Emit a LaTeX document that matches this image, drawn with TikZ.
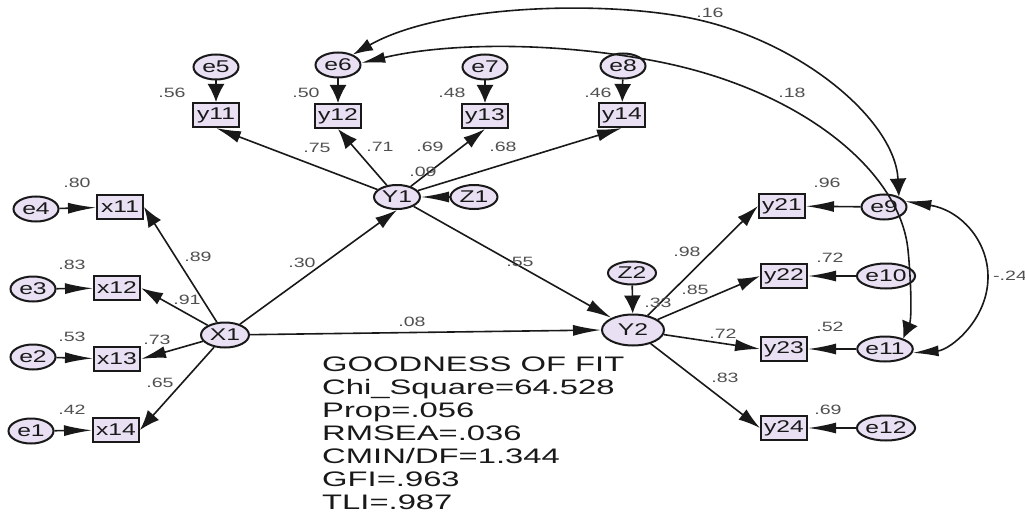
\documentclass[tikz,border=0pt]{standalone}
\usepackage{fontspec}
\usetikzlibrary{shapes.geometric,arrows.meta}
\newfontfamily\nfont[FakeStretch=1.45]{Liberation Sans}
\newfontfamily\tfont[FakeStretch=1.56]{Liberation Sans}
\definecolor{lav}{RGB}{233,225,243}
\definecolor{lblc}{RGB}{80,80,80}
\definecolor{inkc}{RGB}{25,25,25}
\begin{document}
\begin{tikzpicture}[x=1pt,y=-1pt,
  lat/.style={ellipse, draw=inkc, line width=2pt, fill=lav, minimum width=45pt, minimum height=25pt, inner sep=0pt, text=inkc, font=\nfont\fontsize{17}{18}\selectfont},
  obs/.style={rectangle, draw=inkc, line width=2pt, fill=lav, minimum width=46pt, minimum height=24pt, inner sep=0pt, text=inkc, font=\nfont\fontsize{17}{18}\selectfont},
  lbl/.style={inner sep=0pt, text=lblc, font=\nfont\fontsize{13.5}{15}\selectfont},
  con/.style={draw=inkc, line width=1.6pt},
  ah/.style={con, -{Latex[length=28pt,width=11pt]}},
  av/.style={con, -{Latex[length=18pt,width=17pt]}},
  ad/.style={con, -{Latex[length=22pt,width=13pt]}},
  as/.style={con, -{Latex[length=25pt,width=12pt]}},
  ast/.style={con, -{Latex[length=20pt,width=15pt]}}
]
\useasboundingbox (0,0) rectangle (1025,516);
\fill[white] (0,0) rectangle (1025,516);

% error terms and indicators of Y1
\node[lat] (e5) at (216,67) {e5};
\node[lat] (e6) at (338,65) {e6};
\node[lat] (e7) at (485,67) {e7};
\node[lat] (e8) at (623,66) {e8};
\node[obs] (y11) at (216,115) {y11};
\node[obs] (y12) at (338,116) {y12};
\node[obs] (y13) at (485,116) {y13};
\node[obs] (y14) at (622,115) {y14};
\node[lat, minimum width=46pt, minimum height=24pt] (Y1) at (397,197) {Y1};
\node[lat, minimum width=47pt, minimum height=24pt] (Z1) at (474,197) {Z1};

% X1 side
\node[lat] (e4) at (36,209) {e4};
\node[obs] (x11) at (120,207) {x11};
\node[lat] (e3) at (33,289) {e3};
\node[obs] (x12) at (117,288) {x12};
\node[lat] (e2) at (33,357) {e2};
\node[obs] (x13) at (117,359) {x13};
\node[lat] (e1) at (31,431) {e1};
\node[obs] (x14) at (116,430) {x14};
\node[lat, minimum width=48pt, minimum height=25pt] (X1) at (225,335) {X1};

% Y2 side
\node[lat, minimum width=62pt, minimum height=31pt] (Y2) at (633,330) {Y2};
\node[lat, minimum width=48pt, minimum height=23pt] (Z2) at (632,273) {Z2};
\node[obs] (y21) at (782,206) {y21};
\node[obs] (y22) at (784,276) {y22};
\node[obs] (y23) at (784,349) {y23};
\node[obs] (y24) at (784,428) {y24};
\node[lat] (e9) at (884,207) {e9};
\node[lat] (e10) at (886,276) {e10};
\node[lat] (e11) at (885,349) {e11};
\node[lat] (e12) at (886,428) {e12};

% error -> indicator
\draw[av] (e5) -- (y11);
\draw[av] (e6) -- (y12);
\draw[av] (e7) -- (y13);
\draw[av] (e8) -- (y14);
\draw[ah] (e4) -- (x11);
\draw[ah] (e3) -- (x12);
\draw[ah] (e2) -- (x13);
\draw[ah] (e1) -- (x14);
\draw[ah] (e9) -- (y21);
\draw[ah] (e10) -- (y22);
\draw[ah] (e11) -- (y23);
\draw[ah] (e12) -- (y24);

% loadings
\draw[as] (Y1) -- (y11.south);
\draw[ast] (Y1) -- (y12.south);
\draw[ad] (Y1) -- (y13.south);
\draw[as] (Y1) -- (y14.south);
\draw[ast] (X1) -- (x11.east);
\draw[ad] (X1) -- (x12.east);
\draw[as] (X1) -- (x13.east);
\draw[ast] (X1) -- (x14.east);
\draw[ad] (Y2) -- (y21.west);
\draw[ad] (Y2) -- (y22.west);
\draw[as] (Y2) -- (y23.west);
\draw[ad] (Y2) -- (y24.west);

% structural paths
\draw[ad] (X1) -- (Y1.south);
\draw[ah] (X1) -- (Y2.west);
\draw[as] (Y1) -- (Y2);
\draw[ah] (Z1) -- (Y1);
\draw[av] (Z2) -- (Y2);

% covariances
\draw[con, {Latex[length=20pt,width=13pt]}-{Latex[length=18pt,width=17pt]}]
  (e6.35) .. controls (440,5) and (600,0) .. (690,18)
  .. controls (800,40) and (895,120) .. (e9.35);
\draw[con, {Latex[length=24pt,width=11pt]}-{Latex[length=17pt,width=17pt]}]
  (e6.5) .. controls (450,42) and (560,42) .. (660,62)
  .. controls (800,90) and (900,170) .. (908,250)
  .. controls (911,280) and (912,318) .. (e11.30);
\draw[con, {Latex[length=26pt,width=11pt]}-{Latex[length=26pt,width=11pt]}]
  (e9.15) .. controls (960,210) and (988,240) .. (988,277)
  .. controls (988,320) and (950,350) .. (e11.-8);

% labels
\node[lbl] (l56) at (172,93) {.56};
\node[lbl] (l50) at (306,93) {.50};
\node[lbl] (l48) at (452,93) {.48};
\node[lbl] (l46) at (598,93) {.46};
\node[lbl] (l75) at (317,148) {.75};
\node[lbl] (l71) at (380,147) {.71};
\node[lbl] (l69) at (430,147) {.69};
\node[lbl] (l68) at (503,147) {.68};
\node[lbl] (l09) at (423,172) {.09};
\node[lbl] (l80) at (77,183) {.80};
\node[lbl] (l83a) at (72,265) {.83};
\node[lbl] (l53) at (72,337) {.53};
\node[lbl] (l42) at (72,410) {.42};
\node[lbl] (l89) at (198,257) {.89};
\node[lbl] (l91) at (187,300) {.91};
\node[lbl] (l73) at (157,340) {.73};
\node[lbl] (l65) at (160,383) {.65};
\node[lbl] (l30) at (302,263) {.30};
\node[lbl] (l55) at (520,262) {.55};
\node[lbl] (l08) at (412,322) {.08};
\node[lbl] (l33) at (658,303) {.33};
\node[lbl] (l98) at (687,252) {.98};
\node[lbl] (l85) at (695,290) {.85};
\node[lbl] (l72a) at (723,334) {.72};
\node[lbl] (l83b) at (725,378) {.83};
\node[lbl] (l96) at (827,183) {.96};
\node[lbl] (l72b) at (830,258) {.72};
\node[lbl] (l52) at (830,327) {.52};
\node[lbl] (l69b) at (828,410) {.69};
\node[lbl] (l16) at (710,13) {.16};
\node[lbl] (l18) at (792,93) {.18};
\node[lbl, anchor=west] (l24) at (993,276) {-.24};

% fit statistics
\node[anchor=north west, inner sep=0pt, align=left, text=inkc,
      font=\tfont\fontsize{21}{23}\selectfont] (fit) at (322,357)
  {GOODNESS OF FIT\\Chi\_Square=64.528\\Prop=.056\\RMSEA=.036\\CMIN/DF=1.344\\GFI=.963\\TLI=.987};
\end{tikzpicture}
\end{document}
